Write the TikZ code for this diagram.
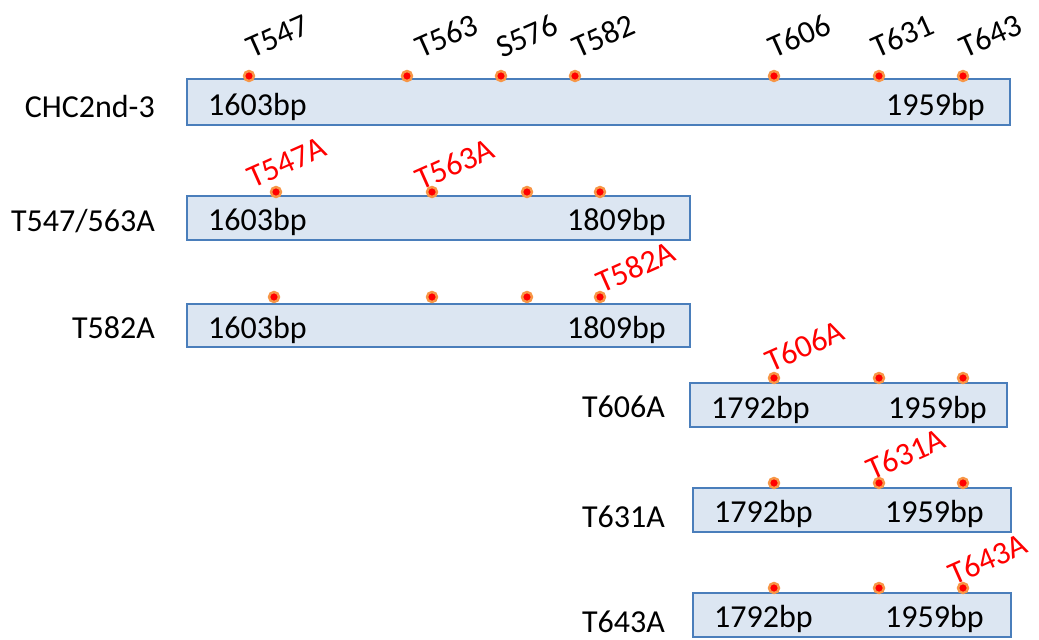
\documentclass[tikz,border=0pt]{standalone}
\usepackage{fontspec}
\setmainfont{Carlito}
\definecolor{boxfill}{HTML}{DCE6F2}
\definecolor{boxline}{HTML}{4A7EBB}
\definecolor{ringc}{HTML}{F79646}
\tikzset{
  seg/.style={draw=boxline, fill=boxfill, line width=2.2pt, rectangle, anchor=north west, inner sep=0pt, outer sep=0pt},
  site/.style={circle, fill=red, draw=ringc, line width=2.4pt, minimum size=10pt, inner sep=0pt},
  txt/.style={inner sep=0pt, font=\fontsize{32}{38}\selectfont},
  bp/.style={txt, anchor=base west},
  rowlab/.style={txt, anchor=base east},
  toplab/.style={inner sep=0pt, font=\fontsize{32}{38}\selectfont, anchor=base west, rotate=24},
  mutlab/.style={toplab, text=red},
}
\begin{document}
\begin{tikzpicture}[x=1pt, y=-1pt]
\useasboundingbox (0,0) rectangle (1039,640);

% Row 1
\node[rowlab] (r1) at (155,117) {CHC2nd-3};
\node[seg, minimum width=823pt, minimum height=46pt] (b1) at (187,79) {};
\node[bp] (b1s) at (208,115) {1603bp};
\node[bp] (b1e) at (886,115) {1959bp};
\foreach \n/\x/\lx/\t in {a/249/252/T547, b/407/421/T563, c/501/502/S576, d/575/578/T582, e/774/774/T606, f/879/877/T631, g/963/965/T643}{
  \node[site] (d1\n) at (\x,76) {};
  \node[toplab] (l1\n) at (\lx,59) {\t};
}

% Row 2
\node[rowlab] (r2) at (155,231) {T547/563A};
\node[seg, minimum width=503pt, minimum height=44pt] (b2) at (187,196) {};
\node[bp] (b2s) at (208,230) {1603bp};
\node[bp] (b2e) at (567,230) {1809bp};
\foreach \n/\x in {a/276, b/432, c/527, d/600}{
  \node[site] (d2\n) at (\x,192) {};
}
\node[mutlab] (l2a) at (253,189) {T547A};
\node[mutlab] (l2b) at (421,191) {T563A};

% Row 3
\node[rowlab] (r3) at (155,338) {T582A};
\node[seg, minimum width=503pt, minimum height=43pt] (b3) at (187,304) {};
\node[bp] (b3s) at (208,338) {1603bp};
\node[bp] (b3e) at (567,338) {1809bp};
\foreach \n/\x in {a/274, b/432, c/527, d/600}{
  \node[site] (d3\n) at (\x,297) {};
}
\node[mutlab] (l3d) at (602,294) {T582A};

% Row 4
\node[rowlab] (r4) at (665,417) {T606A};
\node[seg, minimum width=317pt, minimum height=44pt] (b4) at (690,383) {};
\node[bp] (b4s) at (711,418) {1792bp};
\node[bp] (b4e) at (888,418) {1959bp};
\foreach \n/\x in {a/774, b/879, c/963}{
  \node[site] (d4\n) at (\x,378) {};
}
\node[mutlab] (l4a) at (771,373) {T606A};

% Row 5
\node[rowlab] (r5) at (665,527) {T631A};
\node[seg, minimum width=318pt, minimum height=44pt] (b5) at (693,488) {};
\node[bp] (b5s) at (714,522) {1792bp};
\node[bp] (b5e) at (885,522) {1959bp};
\foreach \n/\x in {a/774, b/879, c/963}{
  \node[site] (d5\n) at (\x,483) {};
}
\node[mutlab] (l5b) at (872,481) {T631A};

% Row 6
\node[rowlab] (r6) at (665,632) {T643A};
\node[seg, minimum width=318pt, minimum height=44pt] (b6) at (693,593) {};
\node[bp] (b6s) at (714,627) {1792bp};
\node[bp] (b6e) at (885,627) {1959bp};
\foreach \n/\x in {a/774, b/879, c/963}{
  \node[site] (d6\n) at (\x,588) {};
}
\node[mutlab] (l6c) at (954,586) {T643A};
\end{tikzpicture}
\end{document}
